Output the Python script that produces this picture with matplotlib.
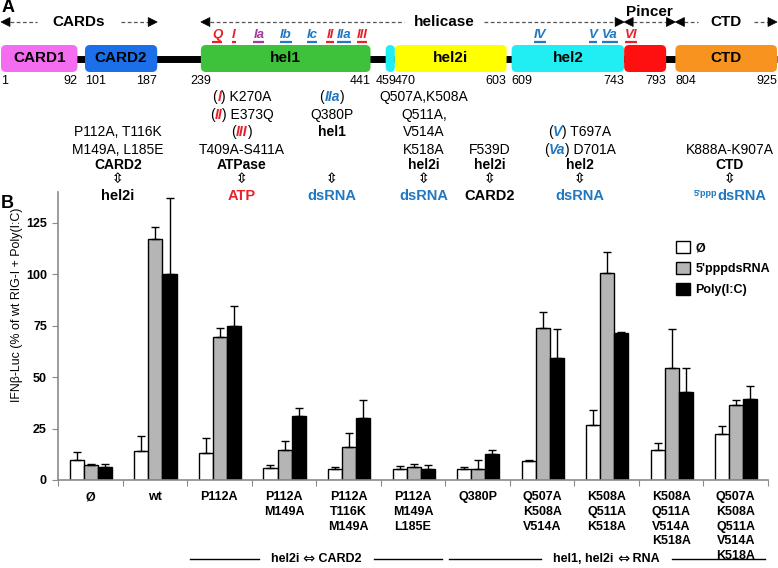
import numpy as np
import matplotlib
matplotlib.use("Agg")
import matplotlib.pyplot as plt
from matplotlib.patches import FancyBboxPatch, Polygon
from matplotlib.offsetbox import TextArea, HPacker, AnnotationBbox

plt.rcParams['font.family'] = ['Liberation Sans', 'DejaVu Sans']

# ---------------- Panel B data ----------------
categories = ["Ø", "wt", "P112A", "P112A\nM149A", "P112A\nT116K\nM149A",
              "P112A\nM149A\nL185E", "Q380P", "Q507A\nK508A\nV514A",
              "K508A\nQ511A\nK518A", "K508A\nQ511A\nV514A\nK518A",
              "Q507A\nK508A\nQ511A\nV514A\nK518A"]
series_labels = ["Ø", "5'pppdsRNA", "Poly(I:C)"]
mock = [9.8, 14.1, 13.3, 6.0, 5.5, 5.5, 5.5, 9.3, 26.7, 14.6, 22.3]
mock_err = [4.0, 7.4, 7.2, 1.5, 1.0, 1.3, 0.8, 0.3, 7.1, 3.3, 4.0]
ppp = [7.3, 117.0, 69.3, 14.8, 16.0, 6.3, 5.5, 73.8, 100.6, 54.5, 36.7]
ppp_err = [0.4, 6.0, 4.5, 4.2, 7.0, 1.7, 4.3, 7.8, 10.0, 19.0, 2.3]
pic = [6.5, 100.0, 75.1, 30.9, 30.0, 5.5, 12.5, 59.5, 71.6, 43.0, 39.3]
pic_err = [1.5, 37.0, 9.3, 4.1, 8.7, 2.0, 2.0, 13.8, 0.4, 11.5, 6.2]
y_ticks = [0, 25, 50, 75, 100, 125]
y_label = "IFNβ-Luc (% of wt RIG-I + Poly(I:C)"
bracket_left = ["hel2i", "hel1, hel2i"]
bracket_right = ["CARD2", "RNA"]
bracket_first = [2, 6]
bracket_last = [5, 10]

# ---------------- Panel A data ----------------
domain_names = ["CARD1", "CARD2", "hel1", "", "hel2i", "hel2", "", "CTD"]
domain_start = [1, 101, 239, 459, 470, 609, 743, 804]
domain_end = [92, 187, 441, 470, 603, 743, 793, 925]
domain_colors = ["#f46cf0", "#1c6fe8", "#3ec23c", "#20eef2", "#ffff00",
                 "#20eef2", "#ff1010", "#f7931e"]
boundary_numbers = [1, 92, 101, 187, 239, 441, 459, 470, 603, 609, 743, 793, 804, 925]
boundary_align = ["left", "right", "left", "right", "center", "right", "center",
                  "left", "right", "left", "right", "right", "left", "right"]
region_names = ["CARDs", "helicase", "Pincer", "CTD"]
region_start = [1, 239, 743, 804]
region_end = [187, 743, 804, 925]
motif_names = ["Q", "I", "Ia", "Ib", "Ic", "II", "IIa", "III", "IV", "V", "Va", "VI"]

RED = "#e8202a"
BLUE = "#1f78c1"
PURPLE = "#a23c98"
motif_colors = [RED, RED, PURPLE, BLUE, BLUE, RED, BLUE, RED, BLUE, BLUE, BLUE, RED]

# ---------------- Figure ----------------
W, H = 778, 568
fig = plt.figure(figsize=(W / 100, H / 100), dpi=100)

# ---- Panel B axes
ax = fig.add_axes([58 / W, (H - 480) / H, 710 / W, 288 / H])
n = len(categories)
xc = np.arange(n) + 0.51
bw = 0.218
fills = ["white", "#b5b5b5", "black"]
series = [(mock, mock_err), (ppp, ppp_err), (pic, pic_err)]
handles = []
for k, (vals, errs) in enumerate(series):
    xs = xc + (k - 1) * bw
    b = ax.bar(xs, vals, bw, color=fills[k], edgecolor="black", linewidth=1.0,
               label=series_labels[k], zorder=2)
    handles.append(b)
    ax.errorbar(xs, vals, yerr=[np.zeros(n), errs], fmt="none", ecolor="black",
                elinewidth=1.0, capsize=2.9, capthick=1.0, zorder=3)

ax.set_xlim(0, n)
ax.set_ylim(0, 140)
for s in ["top", "right"]:
    ax.spines[s].set_visible(False)
for s in ["left", "bottom"]:
    ax.spines[s].set_color("#8a8a8a")
    ax.spines[s].set_linewidth(1.2)
ax.set_yticks(y_ticks)
ax.set_yticklabels([str(t) for t in y_ticks])
ax.tick_params(axis="y", direction="out", length=4, color="#8a8a8a",
               labelsize=9, pad=4)
for lbl in ax.get_yticklabels():
    lbl.set_fontweight("bold")
ax.set_xticks(np.arange(n + 1))
ax.set_xticklabels([])
ax.tick_params(axis="x", which="major", direction="out", length=4, color="#8a8a8a")
ax.set_xticks(np.arange(n) + 0.5, categories, minor=True)
ax.tick_params(axis="x", which="minor", length=0, pad=8, labelsize=9)
for lbl in ax.get_xticklabels(minor=True):
    lbl.set_fontweight("bold")
    lbl.set_linespacing(1.3)

ax.set_ylabel(y_label, fontsize=8.9)
ax.yaxis.set_label_coords((23 - 58) / 710, (480 - 305) / 288)

ax.legend(handles=handles, labels=series_labels, loc="upper left",
          bbox_to_anchor=(676 / W, 1 - 241 / H), bbox_transform=fig.transFigure,
          frameon=False, prop=dict(weight="bold", size=9), handlelength=1.1,
          handleheight=1.1, handletextpad=0.45, labelspacing=0.62,
          borderpad=0, borderaxespad=0)

# bracket labels (rich text so the arrow can be larger)
bracket_y = (480 - 559) / 288
btrans = ax.get_xaxis_transform()
bracket_boxes = []
for left, right, f, l in zip(bracket_left, bracket_right, bracket_first, bracket_last):
    x0, x1 = f + 0.05, l + 0.95
    parts = [TextArea(left + " ", textprops=dict(fontsize=9, fontweight="bold")),
             TextArea("\u21d4", textprops=dict(fontsize=10.5, family="DejaVu Sans")),
             TextArea(" " + right, textprops=dict(fontsize=9, fontweight="bold"))]
    hp = HPacker(children=parts, align="center", pad=0, sep=0)
    ab = AnnotationBbox(hp, ((x0 + x1) / 2, bracket_y), xycoords=btrans,
                        frameon=False, box_alignment=(0.5, 0.5), pad=0,
                        annotation_clip=False)
    ax.add_artist(ab)
    bracket_boxes.append((ab, x0, x1))

# ---- Panel A overlay axes (x in amino-acid units, y in pixels)
axA = fig.add_axes([0, 0, 1, 1])
axA.axis("off")
s_px = 776 / 924
lo = 1 - 1 / s_px
hi = lo + W / s_px
axA.set_xlim(lo, hi)
axA.set_ylim(H, 0)


def px2aa(p):
    return lo + p * (hi - lo) / W


aa_per_px = (hi - lo) / W

# backbone
axA.plot([domain_start[0], domain_end[-1]], [58.5, 58.5], color="black", lw=5,
         solid_capstyle="butt", zorder=1)
box_top, box_h = 45, 27
for name, s, e, c in zip(domain_names, domain_start, domain_end, domain_colors):
    p = FancyBboxPatch((s, box_top), e - s, box_h,
                       boxstyle="round,pad=0,rounding_size=6",
                       mutation_aspect=0.85, facecolor=c, edgecolor="none",
                       zorder=2)
    axA.add_patch(p)
    if name:
        axA.text((s + e) / 2, box_top + box_h / 2, name, ha="center", va="center",
                 fontsize=11, fontweight="bold", zorder=3)

for num, al in zip(boundary_numbers, boundary_align):
    axA.text(num, 81, str(num), ha=al, va="center", fontsize=9)

# region headings
heading_px = [79, 444, None, 726]
heading_gap = [16, 10, 0, 12]
head_len = 9 * aa_per_px
heading_texts = []


def tri(x_tip, y, direction):
    base = x_tip - direction * head_len
    axA.add_patch(Polygon([(x_tip, y), (base, y - 4.5), (base, y + 4.5)],
                          closed=True, facecolor="black", edgecolor="black",
                          lw=0.5, zorder=3))


for name, s, e, hx, gap in zip(region_names, region_start, region_end,
                               heading_px, heading_gap):
    cx = px2aa(hx) if hx is not None else (s + e) / 2
    tri(s, 22, -1)
    tri(e, 22, 1)
    if name == "Pincer":
        axA.text(cx, 12, name, ha="center", va="center", fontsize=11,
                 fontweight="bold")
        axA.plot([s + head_len, e - head_len], [22, 22], color="#555555", lw=0.9,
                 ls=(0, (3, 2)))
    else:
        t = axA.text(cx, 22, name, ha="center", va="center", fontsize=11,
                     fontweight="bold")
        heading_texts.append((t, s, e, gap))

# motif labels
motif_px = [217, 234, 259, 286, 312, 330, 344, 362, 540, 593, 610, 631]
motif_texts = []
for name, c, xp in zip(motif_names, motif_colors, motif_px):
    t = axA.text(px2aa(xp), 35, name, ha="center", va="center", fontsize=9.5,
                 fontweight="bold", fontstyle="italic", color=c)
    motif_texts.append((t, c))

# mutation annotation columns
STY = {
    "n": dict(color="black", fontsize=10),
    "b": dict(color="black", fontsize=10, fontweight="bold"),
    "ri": dict(color=RED, fontsize=10, fontweight="bold", fontstyle="italic"),
    "bi": dict(color=BLUE, fontsize=10, fontweight="bold", fontstyle="italic"),
    "rb": dict(color=RED, fontsize=10.5, fontweight="bold"),
    "bb": dict(color=BLUE, fontsize=10.5, fontweight="bold"),
    "kb": dict(color="black", fontsize=10.5, fontweight="bold"),
    "sup": dict(color=BLUE, fontsize=6.5, fontweight="bold"),
    "arr": dict(color="black", fontsize=10, family="DejaVu Sans",
                fontweight="bold"),
}
ARROW = "\u21f3"
rows = [97, 115, 132, 150, 165, 179, 196]
columns = [
    (118, {2: [("P112A, T116K", "n")], 3: [("M149A, L185E", "n")],
           4: [("CARD2", "b")], 5: [(ARROW, "arr")], 6: [("hel2i", "kb")]}),
    (242, {0: [("(", "n"), ("I", "ri"), (") K270A", "n")],
           1: [("(", "n"), ("II", "ri"), (") E373Q", "n")],
           2: [("(", "n"), ("III", "ri"), (")", "n")],
           3: [("T409A-S411A", "n")], 4: [("ATPase", "b")],
           5: [(ARROW, "arr")], 6: [("ATP", "rb")]}),
    (332, {0: [("(", "n"), ("IIa", "bi"), (")", "n")], 1: [("Q380P", "n")],
           2: [("hel1", "b")], 5: [(ARROW, "arr")], 6: [("dsRNA", "bb")]}),
    (424, {0: [("Q507A,K508A", "n")], 1: [("Q511A,", "n")], 2: [("V514A", "n")],
           3: [("K518A", "n")], 4: [("hel2i", "b")], 5: [(ARROW, "arr")],
           6: [("dsRNA", "bb")]}),
    (490, {3: [("F539D", "n")], 4: [("hel2i", "b")], 5: [(ARROW, "arr")],
           6: [("CARD2", "kb")]}),
    (580, {2: [("(", "n"), ("V", "bi"), (") T697A", "n")],
           3: [("(", "n"), ("Va", "bi"), (") D701A", "n")],
           4: [("hel2", "b")], 5: [(ARROW, "arr")], 6: [("dsRNA", "bb")]}),
    (730, {3: [("K888A-K907A", "n")], 4: [("CTD", "b")], 5: [(ARROW, "arr")],
           6: [("5'ppp", "sup"), ("dsRNA", "bb")]}),
]


def rich_line(x_px, y_px, parts):
    boxes = [TextArea(t, textprops=STY[k]) for t, k in parts]
    align = "top" if any(k == "sup" for _, k in parts) else "baseline"
    hp = HPacker(children=boxes, align=align, pad=0, sep=0)
    ab = AnnotationBbox(hp, (px2aa(x_px), y_px), xycoords="data", frameon=False,
                        box_alignment=(0.5, 0.5), pad=0, annotation_clip=False)
    axA.add_artist(ab)


for xp, lines in columns:
    for r, parts in lines.items():
        rich_line(xp, rows[r], parts)

fig.text(2 / W, 1 - 7 / H, "A", fontsize=13, fontweight="bold", va="center",
         ha="left")
fig.text(1 / W, 1 - 203 / H, "B", fontsize=13, fontweight="bold", va="center",
         ha="left")

# ---- second pass: measured decorations
fig.canvas.draw()
renderer = fig.canvas.get_renderer()
invA = axA.transData.inverted()

for t, c in motif_texts:
    bb = t.get_window_extent(renderer)
    (x0, _), (x1, _) = invA.transform([(bb.x0, 0), (bb.x1, 0)])
    axA.plot([x0, x1], [42, 42], color=c, lw=1.6, solid_capstyle="butt")

for t, s, e, gap in heading_texts:
    bb = t.get_window_extent(renderer)
    (x0, _), (x1, _) = invA.transform([(bb.x0, 0), (bb.x1, 0)])
    g = gap * aa_per_px
    axA.plot([s + head_len, x0 - g], [22, 22], color="#555555", lw=0.9,
             ls=(0, (3, 2)))
    axA.plot([x1 + g, e - head_len], [22, 22], color="#555555", lw=0.9,
             ls=(0, (3, 2)))

invB = ax.transData.inverted()
for ab, x0, x1 in bracket_boxes:
    bb = ab.get_window_extent(renderer)
    (tx0, _), (tx1, _) = invB.transform([(bb.x0, 0), (bb.x1, 0)])
    g = 12 / 64.5
    for a, b in [(x0, tx0 - g), (tx1 + g, x1)]:
        ax.plot([a, b], [bracket_y, bracket_y], transform=btrans, color="black",
                lw=1.0, clip_on=False)

fig.savefig("out.png", dpi=100)
